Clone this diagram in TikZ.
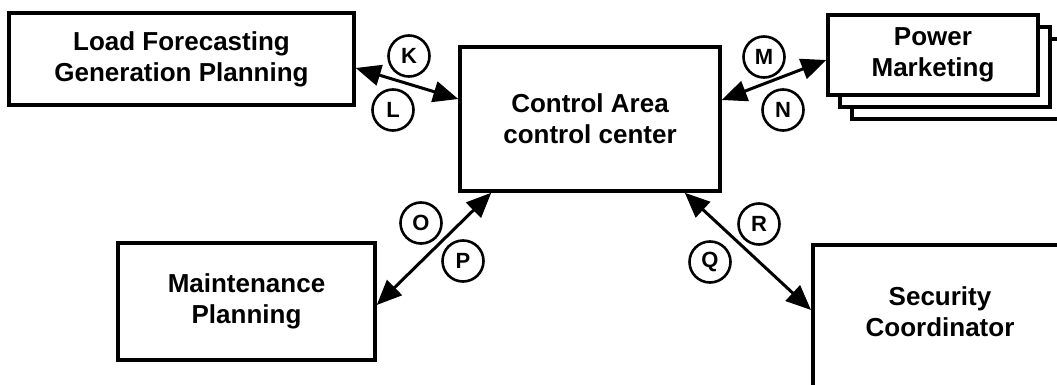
\documentclass[tikz,border=0pt]{standalone}
\usepackage{fontspec}
\setmainfont{Liberation Sans}
\usetikzlibrary{arrows.meta,shapes,calc}
\tikzstyle{block}=[draw,line width=3.5pt,fill=white,inner sep=0pt,align=center,
    font=\bfseries\fontsize{26}{31}\selectfont]
\tikzstyle{tag}=[circle,draw,line width=2.6pt,minimum size=41pt,inner sep=0pt,
    font=\bfseries\fontsize{22}{22}\selectfont]
\tikzstyle{arr} = [draw,line width=3pt,{Triangle[length=25pt,width=21pt]}-{Triangle[length=25pt,width=21pt]}]

\begin{document}
\begin{tikzpicture}[x=1pt, y=-1pt]
    \useasboundingbox (0,0) rectangle (1057,385);

    % boxes
    \node[block, minimum width=345pt, minimum height=92pt] (load) at (181.5,59)
        {Load Forecasting\\Generation Planning};
    \node[block, minimum width=260pt, minimum height=144pt] (ctrl) at (590,119)
        {Control Area\\control center};
    \foreach \dd in {24,12}
        \draw[line width=3.5pt,fill=white] (828+\dd,15+\dd) rectangle (1038+\dd,95+\dd);
    \node[block, minimum width=210pt, minimum height=80pt] (power) at (933,55)
        {Power\\Marketing};
    \node[block, minimum width=257pt, minimum height=117pt] (maint) at (246.5,301.5)
        {Maintenance\\Planning};
    \node[block, minimum width=300pt, minimum height=200pt, anchor=north west]
        (secur) at (811,243) {};
    \node[align=center, font=\bfseries\fontsize{26}{31}\selectfont] (securtxt)
        at (940,312) {Security\\Coordinator};

    % labels
    \foreach \pos/\name in {{(409,56)/K}, {(393,110)/L}, {(764,57)/M},
    {(783,110)/N}, {(421,223)/O}, {(463,261)/P}, {(710,262)/Q}, {(759,224)/R}}
        \node[tag] (\name) at \pos {\name};

    % flows
    \path[arr] ($(load.east)+(0,9)$) -- ($(ctrl.west)+(0,-20)$);
    \path[arr] ($(ctrl.east)+(0,-19)$) -- ($(power.west)+(0,5)$);
    \path[arr] ($(ctrl.south west)+(33,0)$) -- ($(maint.east)+(0,3.5)$);
    \path[arr] ($(ctrl.south east)+(-37,0)$) -- ($(secur.north west)+(0,67)$);
\end{tikzpicture}
\end{document}
